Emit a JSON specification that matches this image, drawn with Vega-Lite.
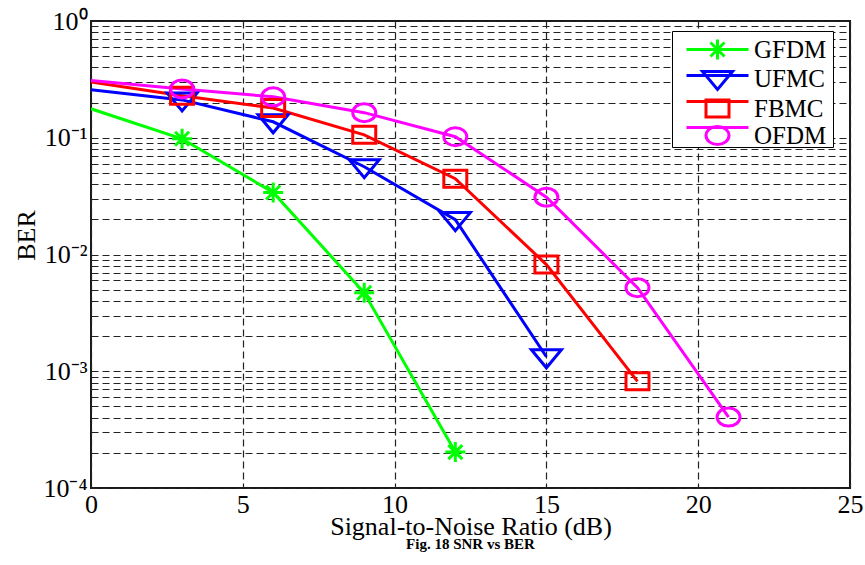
{
  "$schema": "https://vega.github.io/schema/vega-lite/v6.json",
  "width": 759,
  "height": 467,
  "autosize": {"type": "none"},
  "padding": {"left": 91, "top": 21, "right": 15, "bottom": 77},
  "background": "white",
  "config": {
    "font": "Liberation Serif",
    "view": {"stroke": "#1a1a1a", "strokeWidth": 2},
    "axis": {"gridColor": "#222222", "gridDash": [7, 4], "gridWidth": 1.2, "gridOpacity": 1, "domain": false, "ticks": false, "labelColor": "black", "titleColor": "black", "labelFont": "Liberation Serif", "titleFont": "Liberation Serif", "labelFontSize": 26, "titleFontSize": 26, "titleFontWeight": "normal"}
  },
  "title": {"text": "Fig. 18 SNR vs BER", "orient": "bottom", "anchor": "middle", "font": "Liberation Serif", "fontWeight": "bold", "fontSize": 15, "color": "black", "offset": -2},
  "data": {
    "values": [
      {"series": "GFDM", "snr": 0, "ber": 0.177},
      {"series": "GFDM", "snr": 3, "ber": 0.098},
      {"series": "GFDM", "snr": 6, "ber": 0.034},
      {"series": "GFDM", "snr": 9, "ber": 0.0047},
      {"series": "GFDM", "snr": 12, "ber": 0.000203},
      {"series": "UFMC", "snr": 0, "ber": 0.258},
      {"series": "UFMC", "snr": 3, "ber": 0.211},
      {"series": "UFMC", "snr": 6, "ber": 0.137},
      {"series": "UFMC", "snr": 9, "ber": 0.0565},
      {"series": "UFMC", "snr": 12, "ber": 0.0199},
      {"series": "UFMC", "snr": 15, "ber": 0.00133},
      {"series": "FBMC", "snr": 0, "ber": 0.3},
      {"series": "FBMC", "snr": 3, "ber": 0.229},
      {"series": "FBMC", "snr": 6, "ber": 0.18},
      {"series": "FBMC", "snr": 9, "ber": 0.106},
      {"series": "FBMC", "snr": 12, "ber": 0.0446},
      {"series": "FBMC", "snr": 15, "ber": 0.0082},
      {"series": "FBMC", "snr": 18, "ber": 0.00082},
      {"series": "OFDM", "snr": 0, "ber": 0.31},
      {"series": "OFDM", "snr": 3, "ber": 0.262},
      {"series": "OFDM", "snr": 6, "ber": 0.224},
      {"series": "OFDM", "snr": 9, "ber": 0.164},
      {"series": "OFDM", "snr": 12, "ber": 0.102},
      {"series": "OFDM", "snr": 15, "ber": 0.031},
      {"series": "OFDM", "snr": 18, "ber": 0.0052},
      {"series": "OFDM", "snr": 21, "ber": 0.000405}
    ]
  },
  "encoding": {
    "x": {
      "field": "snr", "type": "quantitative",
      "scale": {"domain": [0, 25], "nice": false, "zero": false},
      "axis": {"values": [0, 5, 10, 15, 20, 25], "title": "Signal-to-Noise Ratio (dB)", "labelPadding": 3, "titlePadding": -4, "labelFlush": false, "labelOverlap": false}
    },
    "y": {
      "field": "ber", "type": "quantitative",
      "scale": {"type": "log", "domain": [0.0001, 1], "nice": false},
      "axis": {
        "values": [0.0001, 0.0002, 0.0003, 0.0004, 0.0005, 0.0006, 0.0007, 0.0008, 0.0009, 0.001, 0.002, 0.003, 0.004, 0.005, 0.006, 0.007, 0.008, 0.009, 0.01, 0.02, 0.03, 0.04, 0.05, 0.06, 0.07, 0.08, 0.09, 0.1, 0.2, 0.3, 0.4, 0.5, 0.6, 0.7, 0.8, 0.9, 1],
        "labelExpr": "abs(datum.value - 1) < 1e-9 ? '10⁰' : abs(datum.value - 0.1) < 1e-9 ? '10⁻¹' : abs(datum.value - 0.01) < 1e-10 ? '10⁻²' : abs(datum.value - 0.001) < 1e-11 ? '10⁻³' : abs(datum.value - 0.0001) < 1e-12 ? '10⁻⁴' : ''",
        "labelOverlap": false,
        "labelFlush": false,
        "labelPadding": 4,
        "labelBaseline": "middle",
        "labelDy": 10,
        "title": "BER",
        "titleX": -65,
        "titleY": 214,
        "titleAngle": -90,
        "titleBaseline": "middle",
        "titleAlign": "center"
      }
    }
  },
  "layer": [
    {
      "mark": {"type": "line", "strokeWidth": 3, "clip": true},
      "encoding": {
        "stroke": {
          "field": "series", "type": "nominal",
          "sort": ["GFDM", "UFMC", "FBMC", "OFDM"],
          "scale": {"range": ["#00ff00", "#0000ff", "#ff0000", "#ff00ff"]},
          "legend": {
            "title": null,
            "orient": "none",
            "legendX": 581,
            "legendY": 10,
            "fillColor": "white",
            "strokeColor": "black",
            "padding": 6,
            "rowPadding": -12,
            "labelFont": "Liberation Serif",
            "labelFontSize": 25,
            "labelOpacity": 0,
            "labelOffset": 24,
            "symbolOffset": 27,
            "symbolSize": 400,
            "symbolStrokeWidth": 3,
            "symbolType": "M-3.1,0L3.1,0"
          }
        }
      }
    },
    {
      "transform": [{"filter": "datum.snr > 0"}],
      "mark": {"type": "point", "filled": false, "strokeWidth": 3, "size": 400, "opacity": 1},
      "encoding": {
        "color": {
          "field": "series", "type": "nominal",
          "scale": {"domain": ["GFDM", "UFMC", "FBMC", "OFDM"], "range": ["#00ff00", "#0000ff", "#ff0000", "#ff00ff"]},
          "legend": {
            "title": null,
            "orient": "none",
            "legendX": 581,
            "legendY": 10,
            "fillColor": "transparent",
            "strokeColor": "transparent",
            "padding": 6,
            "rowPadding": -12,
            "labelFont": "Liberation Serif",
            "labelFontSize": 25,
            "labelColor": "black",
            "labelOffset": 24,
            "symbolOffset": 27,
            "symbolSize": 400,
            "symbolStrokeWidth": 3
          }
        },
        "shape": {
          "field": "series", "type": "nominal",
          "scale": {"domain": ["GFDM", "UFMC", "FBMC", "OFDM"], "range": ["M-1,0L1,0M0,-1L0,1M-0.7,-0.7L0.7,0.7M-0.7,0.7L0.7,-0.7", "M-1.5,-0.7L1.5,-0.7L0,1.1Z", "M-1.15,-0.85L1.15,-0.85L1.15,0.85L-1.15,0.85Z", "M-1.15,0A1.15,0.9 0 1,1 1.15,0A1.15,0.9 0 1,1 -1.15,0Z"]}
        }
      }
    }
  ]
}
